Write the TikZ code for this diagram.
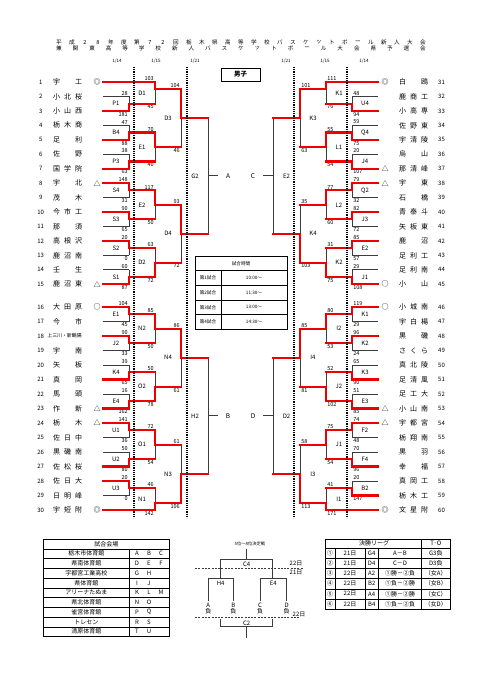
\documentclass[tikz,border=0pt]{standalone}
\usepackage{fontspec}
\newfontfamily\jp{Noto Sans CJK JP}
\pgfdeclarelayer{fg}\pgfdeclarelayer{top}\pgfsetlayers{main,fg,top}
\definecolor{rdc}{RGB}{238,0,0}
\definecolor{lnc}{RGB}{60,60,60}
\newcount\autonc
\tikzset{
  autoname/.code={\global\advance\autonc by 1\relax\edef\tmpnm{an\the\autonc}\tikzset{name/.expand once=\tmpnm}},
  bk/.style={draw=lnc, line width=0.75pt},
  rd/.style={draw=rdc, line width=2.2pt, line cap=rect, line join=miter},
  sc/.style={font=\jp\fontsize{5.5}{6}\selectfont, inner sep=1.1pt},
  lbl/.style={font=\jp\fontsize{6}{7}\selectfont, inner sep=0pt},
  numb/.style={font=\jp\fontsize{6}{7}\selectfont, inner sep=0pt},
  nmx/.style={font=\jp\fontsize{7}{8}\selectfont, inner sep=0pt},
  symb/.style={font=\jp\fontsize{7}{8}\selectfont, inner sep=0pt},
  dotl/.style={draw=black, line width=1.3pt, dash pattern=on 1.1pt off 1.1pt},
  ttl/.style={font=\jp\fontsize{5.6}{6}\selectfont, inner sep=0pt},
  dte/.style={font=\jp\fontsize{4.5}{5}\selectfont, inner sep=0pt},
  tsm/.style={font=\jp\fontsize{4.6}{5}\selectfont, inner sep=0pt},
  tbt/.style={font=\jp\fontsize{6}{7}\selectfont, inner sep=0pt},
  tbo/.style={draw=black, line width=0.9pt},
  tbi/.style={draw=black, line width=0.5pt},
  rkl/.style={draw=lnc, line width=0.8pt},
  rkd/.style={draw=lnc, line width=0.6pt, dash pattern=on 2pt off 1.3pt},
}
% left match: xv xn ya yb yo w label sa sb
\newcommand\LM[9]{%
  \draw[bk] (#1,#3) -- (#1,#4);
  \ifnum#6=1\relax
    \begin{pgfonlayer}{fg}\draw[rd] (#1,#3) -- (#1,#5) -- (#2,#5);\end{pgfonlayer}
  \else
    \begin{pgfonlayer}{fg}\draw[rd] (#1,#4) -- (#1,#5) -- (#2,#5);\end{pgfonlayer}
  \fi
  \node[lbl] at ({#1-13},{(#3+#4)/2}) {#7};
  \node[sc,anchor=south east] at (#1,#3) {#8};
  \node[sc,anchor=north east] at (#1,#4) {#9};
}
\newcommand\RM[9]{%
  \draw[bk] (#1,#3) -- (#1,#4);
  \ifnum#6=1\relax
    \begin{pgfonlayer}{fg}\draw[rd] (#1,#3) -- (#1,#5) -- (#2,#5);\end{pgfonlayer}
  \else
    \begin{pgfonlayer}{fg}\draw[rd] (#1,#4) -- (#1,#5) -- (#2,#5);\end{pgfonlayer}
  \fi
  \node[lbl] at ({#1+13},{(#3+#4)/2}) {#7};
  \node[sc,anchor=south west] at (#1,#3) {#8};
  \node[sc,anchor=north west] at (#1,#4) {#9};
}
% first round: ya yb yo w label sa sb
\newcommand\LF[7]{%
  \ifnum#4=1\relax
    \draw[bk] (103,#2) -- (129,#2);
    \begin{pgfonlayer}{fg}\draw[rd] (103,#1) -- (129,#1);\end{pgfonlayer}
  \else
    \draw[bk] (103,#1) -- (129,#1);
    \begin{pgfonlayer}{fg}\draw[rd] (103,#2) -- (129,#2);\end{pgfonlayer}
  \fi
  \LM{129}{155}{#1}{#2}{#3}{#4}{#5}{#6}{#7}}
\newcommand\RF[7]{%
  \ifnum#4=1\relax
    \draw[bk] (378,#2) -- (352,#2);
    \begin{pgfonlayer}{fg}\draw[rd] (378,#1) -- (352,#1);\end{pgfonlayer}
  \else
    \draw[bk] (378,#1) -- (352,#1);
    \begin{pgfonlayer}{fg}\draw[rd] (378,#2) -- (352,#2);\end{pgfonlayer}
  \fi
  \RM{352}{326}{#1}{#2}{#3}{#4}{#5}{#6}{#7}}
% names
\newcommand\LN[5]{\node[numb] at (40.7,#1) {#2};
  \node[nmx,anchor=west] at (53,#1) {\makebox[29pt]{#3\hfill #4\hfill #5}};}
\newcommand\RN[5]{\node[numb] at (441.5,#1) {#2};
  \node[nmx,anchor=west] at (399,#1) {\makebox[29pt]{#3\hfill #4\hfill #5}};}
\newcommand\FL[6]{\node[tbt] at (330,#1) {#2}; \node[tbt] at (350,#1) {#3};
  \node[tbt] at (371.7,#1) {#4}; \node[tbt] at (400,#1) {#5}; \node[tbt] at (435.8,#1) {#6};}
\newcommand\VN[5]{\node[tbt] at (86.3,#1) {#2}; \node[tbt] at (137,#1) {#3};
  \node[tbt] at (149,#1) {#4}; \node[tbt] at (161,#1) {#5};}

\begin{document}
\begin{tikzpicture}[x=1pt,y=-1pt,every node/.append style={autoname}]
\useasboundingbox (0,0) rectangle (481,680);
\fill[white] (0,0) rectangle (481,680);

% title
\foreach \c [count=\k] in {平,成,2,8,年,度,第,7,2,回,栃,木,県,高,等,学,校,バ,ス,ケ,ッ,ト,ボ,ー,ル,新,人,大,会}
  \node[ttl] at ({59+(\k-1)*13},42.5) {\c};
\foreach \c [count=\k] in {兼,関,東,高,等,学,校,新,人,バ,ス,ケ,ッ,ト,ボ,ー,ル,大,会,県,予,選,会}
  \node[ttl] at ({59+(\k-1)*16.545},48.5) {\c};

% dates
\node[dte] at (117,61.5) {1/14};
\node[dte] at (156,61.5) {1/15};
\node[dte] at (195,61.5) {1/21};
\node[dte] at (286,61.5) {1/21};
\node[dte] at (325,61.5) {1/15};
\node[dte] at (364,61.5) {1/14};

\node[draw=black, line width=0.8pt, minimum width=39pt, minimum height=13pt, inner sep=0pt,
  font=\jp\bfseries\fontsize{6.5}{7}\selectfont] (male) at (240.5,74.5) {男子};

% ---------- seeds ----------
\begin{pgfonlayer}{fg}
\draw[rd] (103,82) -- (155,82);
\draw[rd] (103,510) -- (155,510);
\draw[rd] (378,82) -- (326,82);
\draw[rd] (378,510) -- (326,510);
\end{pgfonlayer}

% ---------- left bracket ----------
\LF{96.45}{110.9}{103.68}{2}{P1}{28}{181}
\LF{125.35}{139.8}{132.58}{2}{B4}{47}{88}
\LF{154.25}{168.7}{161.48}{2}{P3}{38}{63}
\LF{183.15}{197.6}{190.38}{1}{S4}{148}{31}
\LF{212.05}{226.5}{219.28}{1}{S3}{90}{65}
\LF{240.95}{255.4}{248.18}{1}{S2}{20}{0}
\LF{269.85}{284.3}{277.08}{2}{S1}{60}{87}
\LF{307}{321.5}{314.25}{1}{E1}{104}{45}
\LF{336}{350.5}{343.25}{1}{J2}{90}{33}
\LF{365}{379.5}{372.25}{2}{K4}{39}{65}
\LF{394}{408.5}{401.25}{2}{E4}{16}{162}
\LF{423}{437.5}{430.25}{1}{U1}{141}{36}
\LF{452}{466.5}{459.25}{2}{U2}{50}{80}
\LF{481}{495.5}{488.25}{1}{U3}{20}{0}

\LM{155}{181}{82}{103.68}{89}{1}{D1}{103}{45}
\LM{155}{181}{132.58}{161.48}{147.03}{1}{E1}{70}{40}
\LM{155}{181}{190.38}{219.28}{204.83}{1}{E2}{117}{50}
\LM{155}{181}{248.18}{277.08}{262.63}{2}{D2}{63}{72}
\LM{155}{181}{314.25}{343.25}{328.75}{1}{N2}{85}{50}
\LM{155}{181}{372.25}{401.25}{386.75}{2}{O2}{50}{78}
\LM{155}{181}{430.25}{459.25}{444.75}{1}{O1}{72}{54}
\LM{155}{181}{488.25}{510}{503}{2}{N1}{46}{142}

\LM{181}{208}{89}{147.03}{118}{1}{D3}{104}{46}
\LM{181}{208}{204.83}{262.63}{233.73}{1}{D4}{93}{72}
\LM{181}{208}{328.75}{386.75}{357.75}{1}{N4}{86}{61}
\LM{181}{208}{444.75}{503}{473.88}{2}{N3}{61}{106}

\draw[bk] (208,118) -- (208,233.73);
\draw[bk] (208,175.87) -- (218,175.87);
\node[lbl] at (195,175.87) {G2};
\node[lbl,font=\jp\fontsize{6.5}{7}\selectfont] at (228,175.87) {A};
\draw[bk] (208,357.75) -- (208,473.88);
\draw[bk] (208,415.8) -- (218,415.8);
\node[lbl] at (195,415.8) {H2};
\node[lbl,font=\jp\fontsize{6.5}{7}\selectfont] at (228,415.8) {B};

% ---------- right bracket ----------
\RF{96.45}{110.9}{103.68}{2}{U4}{48}{94}
\RF{125.35}{139.8}{132.58}{2}{Q4}{59}{75}
\RF{154.25}{168.7}{161.48}{2}{J4}{20}{107}
\RF{183.15}{197.6}{190.38}{1}{Q2}{79}{32}
\RF{212.05}{226.5}{219.28}{1}{J3}{82}{72}
\RF{240.95}{255.4}{248.18}{1}{E2}{85}{57}
\RF{269.85}{284.3}{277.08}{2}{J1}{29}{108}
\RF{307}{321.5}{314.25}{1}{K1}{119}{29}
\RF{336}{350.5}{343.25}{1}{K2}{96}{24}
\RF{365}{379.5}{372.25}{2}{K3}{65}{90}
\RF{394}{408.5}{401.25}{2}{E3}{51}{85}
\RF{423}{437.5}{430.25}{1}{F2}{74}{48}
\RF{452}{466.5}{459.25}{2}{F4}{70}{96}
\RF{481}{495.5}{488.25}{2}{B2}{20}{147}

\RM{326}{300}{82}{103.68}{89}{1}{K1}{111}{76}
\RM{326}{300}{132.58}{161.48}{147.03}{1}{L1}{55}{54}
\RM{326}{300}{190.38}{219.28}{204.83}{1}{L2}{77}{60}
\RM{326}{300}{248.18}{277.08}{262.63}{2}{K2}{31}{75}
\RM{326}{300}{314.25}{343.25}{328.75}{1}{I2}{80}{53}
\RM{326}{300}{372.25}{401.25}{386.75}{2}{J2}{52}{102}
\RM{326}{300}{430.25}{459.25}{444.75}{1}{J1}{75}{54}
\RM{326}{300}{488.25}{510}{503}{2}{I1}{41}{171}

\RM{300}{273}{89}{147.03}{118}{1}{K3}{101}{63}
\RM{300}{273}{204.83}{262.63}{233.73}{2}{K4}{35}{103}
\RM{300}{273}{328.75}{386.75}{357.75}{1}{I4}{85}{81}
\RM{300}{273}{444.75}{503}{473.88}{2}{I3}{58}{113}

\draw[bk] (273,118) -- (273,233.73);
\draw[bk] (273,175.87) -- (263,175.87);
\node[lbl] at (286.5,175.87) {E2};
\node[lbl,font=\jp\fontsize{6.5}{7}\selectfont] at (253,175.87) {C};
\draw[bk] (273,357.75) -- (273,473.88);
\draw[bk] (273,415.8) -- (263,415.8);
\node[lbl] at (286.5,415.8) {D2};
\node[lbl,font=\jp\fontsize{6.5}{7}\selectfont] at (253,415.8) {D};

% dotted day lines
\begin{pgfonlayer}{top}
\draw[dotl] (134,67) -- (134,518);
\draw[dotl] (187,67) -- (187,518);
\draw[dotl] (294,67) -- (294,518);
\draw[dotl] (347,67) -- (347,518);
\end{pgfonlayer}

% ---------- team names ----------
\LN{82}{1}{宇}{}{工}
\LN{96.45}{2}{小}{北}{桜}
\LN{110.9}{3}{小}{山}{西}
\LN{125.35}{4}{栃}{木}{商}
\LN{139.8}{5}{足}{}{利}
\LN{154.25}{6}{佐}{}{野}
\LN{168.7}{7}{国}{学}{院}
\LN{183.15}{8}{宇}{}{北}
\LN{197.6}{9}{茂}{}{木}
\LN{212.05}{10}{今}{市}{工}
\LN{226.5}{11}{那}{}{須}
\LN{240.95}{12}{高}{根}{沢}
\LN{255.4}{13}{鹿}{沼}{南}
\LN{269.85}{14}{壬}{}{生}
\LN{284.3}{15}{鹿}{沼}{東}
\LN{307}{16}{大}{田}{原}
\LN{321.5}{17}{今}{}{市}
\node[numb] at (40.7,336) {18};
\node[font=\jp\fontsize{4.9}{5}\selectfont, inner sep=0pt] at (64.5,336) {上三川・新鶴陽};
\LN{350.5}{19}{宇}{}{南}
\LN{365}{20}{矢}{}{板}
\LN{379.5}{21}{真}{}{岡}
\LN{394}{22}{馬}{}{頭}
\LN{408.5}{23}{作}{}{新}
\LN{423}{24}{栃}{}{木}
\LN{437.5}{25}{佐}{日}{中}
\LN{452}{26}{黒}{磯}{南}
\LN{466.5}{27}{佐}{松}{桜}
\LN{481}{28}{佐}{日}{大}
\LN{495.5}{29}{日}{明}{峰}
\LN{510}{30}{宇}{短}{附}

\RN{82}{31}{白}{}{鴎}
\RN{96.45}{32}{鹿}{商}{工}
\RN{110.9}{33}{小}{高}{専}
\RN{125.35}{34}{佐}{野}{東}
\RN{139.8}{35}{宇}{清}{陵}
\RN{154.25}{36}{烏}{}{山}
\RN{168.7}{37}{那}{清}{峰}
\RN{183.15}{38}{宇}{}{東}
\RN{197.6}{39}{石}{}{橋}
\RN{212.05}{40}{青}{泰}{斗}
\RN{226.5}{41}{矢}{板}{東}
\RN{240.95}{42}{鹿}{}{沼}
\RN{255.4}{43}{足}{利}{工}
\RN{269.85}{44}{足}{利}{南}
\RN{284.3}{45}{小}{}{山}
\RN{307}{46}{小}{城}{南}
\RN{321.5}{47}{宇}{白}{楊}
\RN{336}{48}{黒}{}{磯}
\RN{350.5}{49}{さ}{く}{ら}
\RN{365}{50}{真}{北}{陵}
\RN{379.5}{51}{足}{清}{風}
\RN{394}{52}{足}{工}{大}
\RN{408.5}{53}{小}{山}{南}
\RN{423}{54}{宇}{都}{宮}
\RN{437.5}{55}{栃}{翔}{南}
\RN{452}{56}{黒}{}{羽}
\RN{466.5}{57}{幸}{}{福}
\RN{481}{58}{真}{岡}{工}
\RN{495.5}{59}{栃}{木}{工}
\RN{510}{60}{文}{星}{附}

% symbols
\foreach \yy/\s in {82/◎,183.15/△,284.3/△,307/○,408.5/△,423/△,510/◎}
  \node[symb] at (97,\yy) {\s};
\foreach \yy/\s in {82/◎,168.7/△,183.15/△,284.3/○,307/○,408.5/△,423/△,510/◎}
  \node[symb] at (385,\yy) {\s};

% ---------- time table ----------
\draw[tbo] (195,256) rectangle (287,329.3);
\draw[tbi] (195,270.7) -- (287,270.7);
\draw[tbi] (195,285.35) -- (287,285.35);
\draw[tbi] (195,300) -- (287,300);
\draw[tbi] (195,314.65) -- (287,314.65);
\draw[tbi] (221,270.7) -- (221,329.3);
\node[tsm] at (241,263.3) {試合時間};
\node[tsm] at (208,278) {第1試合}; \node[tsm] at (254,278) {10:00～};
\node[tsm] at (208,292.7) {第2試合}; \node[tsm] at (254,292.7) {11:30～};
\node[tsm] at (208,307.3) {第3試合}; \node[tsm] at (254,307.3) {13:00～};
\node[tsm] at (208,322) {第4試合}; \node[tsm] at (254,322) {14:30～};

% ---------- venue table ----------
\draw[tbo] (43.3,539) rectangle (169.3,636.5);
\foreach \k in {1,...,9} \draw[tbi] (43.3,{539+9.75*\k}) -- (169.3,{539+9.75*\k});
\draw[tbi] (129.3,548.75) -- (129.3,636.5);
\node[tbt] at (106.3,543.9) {試合会場};
\VN{553.6}{栃木市体育館}{A}{B}{C}
\VN{563.4}{県南体育館}{D}{E}{F}
\VN{573.1}{宇都宮工業高校}{G}{H}{}
\VN{582.9}{県体育館}{I}{J}{}
\VN{592.6}{アリーナたぬま}{K}{L}{M}
\VN{602.4}{県北体育館}{N}{O}{}
\VN{612.1}{雀宮体育館}{P}{Q}{}
\VN{621.9}{トレセン}{R}{S}{}
\VN{631.6}{清原体育館}{T}{U}{}

% ---------- 5-8 place bracket ----------
\node[tsm,font=\jp\fontsize{4.3}{5}\selectfont] at (250,544) {5位～8位決定戦};
\draw[rkl] (246.7,548.5) -- (246.7,559.3);
\draw[rkl] (220.7,578.3) -- (220.7,559.3) -- (272.7,559.3) -- (272.7,578.3);
\node[tbt] at (246.7,564) {C4};
\draw[rkd] (195,568.3) -- (303,568.3);
\node[tbt] at (296,563.8) {22日};
\node[tbt] at (296,572.8) {21日};
\draw[rkl] (208.3,601) -- (208.3,578.3) -- (233.3,578.3) -- (233.3,601);
\node[tbt] at (220.7,583.6) {H4};
\draw[rkl] (260,601) -- (260,578.3) -- (286.7,578.3) -- (286.7,601);
\node[tbt] at (273.3,583.6) {E4};
\node[tbt] at (208.3,605.5) {A}; \node[tbt] at (208.3,611.5) {負};
\node[tbt] at (233.3,605.5) {B}; \node[tbt] at (233.3,611.5) {負};
\node[tbt] at (260,605.5) {C}; \node[tbt] at (260,611.5) {負};
\node[tbt] at (286.7,605.5) {D}; \node[tbt] at (286.7,611.5) {負};
\draw[rkd] (195,617.7) -- (300,617.7);
\node[tbt] at (299,614) {22日};
\draw[rkl] (220.7,619.3) -- (220.7,626.7) -- (272.7,626.7) -- (272.7,619.3);
\node[tbt] at (246.7,623) {C2};
\draw[rkl] (246.7,626.7) -- (246.7,638.3);

% ---------- final league table ----------
\draw[tbo] (325,539) rectangle (450,609);
\foreach \k in {0,...,5} \draw[tbi] (325,{548.3+10.12*\k}) -- (450,{548.3+10.12*\k});
\draw[tbi] (421.7,539) -- (421.7,609);
\draw[tbi] (335,548.3) -- (335,609);
\draw[tbi] (365,548.3) -- (365,609);
\draw[tbi] (378.3,548.3) -- (378.3,609);
\node[tbt] at (374,543.7) {決勝リーグ};
\node[tbt] at (435.8,543.7) {T･O};
\FL{553.4}{①}{21日}{G4}{A－B}{G3負}
\FL{563.5}{②}{21日}{D4}{C－D}{D3負}
\FL{573.6}{③}{22日}{A2}{①勝－②負}{（女A）}
\FL{583.7}{④}{22日}{B2}{①負－②勝}{（女B）}
\FL{593.8}{⑤}{22日}{A4}{①勝－②勝}{（女C）}
\FL{604.0}{⑥}{22日}{B4}{①負－②負}{（女D）}
\end{tikzpicture}
\end{document}
